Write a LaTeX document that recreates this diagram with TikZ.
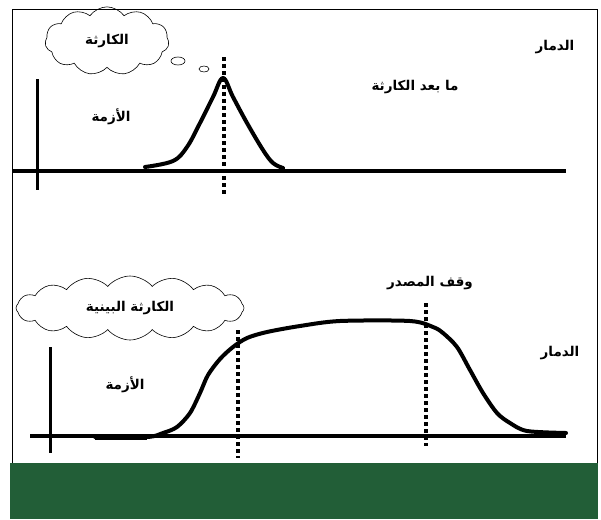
\documentclass[tikz,border=0pt]{standalone}
\usepackage{fontspec}
\usetikzlibrary{shapes.symbols}
\TeXXeTstate=1
\newfontfamily\arabicfont[Script=Arabic, BoldFont={DejaVu Sans Bold}]{DejaVu Sans}
\definecolor{darkgreen}{HTML}{225E37}
\tikzset{
  lab/.style={font=\arabicfont\bfseries\fontsize{13.5}{15}\selectfont, inner sep=0pt},
  axisline/.style={line width=4.5pt},
  curveline/.style={line width=4pt, line join=round, line cap=round},
  dashv/.style={line width=4pt, dash pattern=on 4pt off 3pt},
  thought/.style={cloud, draw, line width=0.6pt, inner sep=0pt, font=\arabicfont\bfseries\fontsize{13.5}{15}\selectfont},
}
\begin{document}
\begin{tikzpicture}[x=1pt,y=-1pt]
\useasboundingbox (0,0) rectangle (601,519);
\fill[white] (0,0) rectangle (601,519);
\draw[line width=1pt] (12,10) rectangle (597,463);
\fill[darkgreen] (10,463) rectangle (598,519);

% ---- top chart ----
\draw[axisline] (12,171) -- (566,171);
\draw[line width=3pt] (37,79) -- (37,190);
\draw[curveline] plot[smooth, tension=0.6] coordinates {(145,167) (173,161) (187,147) (200,123) (213,97) (223,78) (233,97) (247,123) (263,150) (273,163) (283,168)};
\draw[dashv] (224,57) -- (224,196);
\node[thought, cloud puffs=11, cloud puff arc=110, minimum width=124pt, minimum height=56pt] (c1) at (107,41) {\beginR الكارثة\endR};
\draw[line width=0.6pt] (178,61) ellipse (7pt and 4pt);
\draw[line width=0.6pt] (204,69) ellipse (5pt and 3pt);
\node[lab] (t1) at (111,117) {\beginR الأزمة\endR};
\node[lab] (t2) at (555,47) {\beginR الدمار\endR};
\node[lab] (t3) at (415,87) {\beginR ما بعد الكارثة\endR};

% ---- bottom chart ----
\draw[line width=3.5pt] (30,436) -- (566,436);
\draw[line width=3pt] (50,347) -- (50,453);
\draw[line width=5pt] (95,437) -- (147,437);
\draw[curveline] plot[smooth, tension=0.5] coordinates {(95,437) (147,437) (163,433) (177,427) (190,413) (200,393) (208,375) (220,359) (233,347) (247,338) (267,332) (300,326) (340,321) (410,321) (433,327) (443,333) (457,347) (470,370) (483,393) (497,413) (510,423) (527,431) (566,433)};
\draw[dashv] (238,330) -- (238,458);
\draw[dashv] (426,303) -- (426,446);
\node[thought, cloud ignores aspect, cloud puffs=16, cloud puff arc=100, minimum width=228pt, minimum height=64pt] (c2) at (130,308) {\beginR الكارثة البينية\endR};
\node[lab] (t4) at (125,385) {\beginR الأزمة\endR};
\node[lab] (t5) at (430,283) {\beginR وقف المصدر\endR};
\node[lab] (t6) at (560,353) {\beginR الدمار\endR};
\end{tikzpicture}
\end{document}
